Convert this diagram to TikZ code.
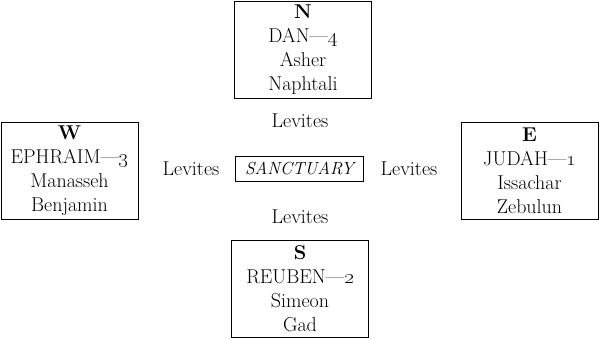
\documentclass[tikz,border=0pt]{standalone}
\usepackage{tikz}
\begin{document}
\begin{tikzpicture}[x=1pt,y=-1pt,
  every node/.style={font=\fontsize{20}{24}\selectfont},
  camp/.style={draw, line width=0.9pt, minimum width=137pt, minimum height=97pt, align=center, inner sep=0pt},
  lev/.style={inner sep=0pt},
  sanctbox/.style={draw, line width=0.8pt, minimum width=128pt, minimum height=25pt, inner sep=0pt, font=\fontsize{17.5}{24}\selectfont\itshape}]
\useasboundingbox (0,0) rectangle (600,339);
\node[camp] (north) at (303,50) {\textbf{N}\\DAN---\oldstylenums{4}\\Asher\\Naphtali};
\node[camp] (west) at (69.5,170.5) {\textbf{W}\\EPHRAIM---\oldstylenums{3}\\Manasseh\\Benjamin};
\node[camp] (east) at (529.5,170.5) {\textbf{E}\\JUDAH---\oldstylenums{1}\\Issachar\\Zebulun};
\node[camp] (south) at (300,288.5) {\textbf{S}\\REUBEN---\oldstylenums{2}\\Simeon\\Gad};
\node[sanctbox] (sanct) at (299.5,168.5) {SANCTUARY};
\node[lev] (levn) at (300,121) {Levites};
\node[lev] (levw) at (191,169) {Levites};
\node[lev] (leve) at (409,169) {Levites};
\node[lev] (levs) at (300,217) {Levites};
\end{tikzpicture}
\end{document}
